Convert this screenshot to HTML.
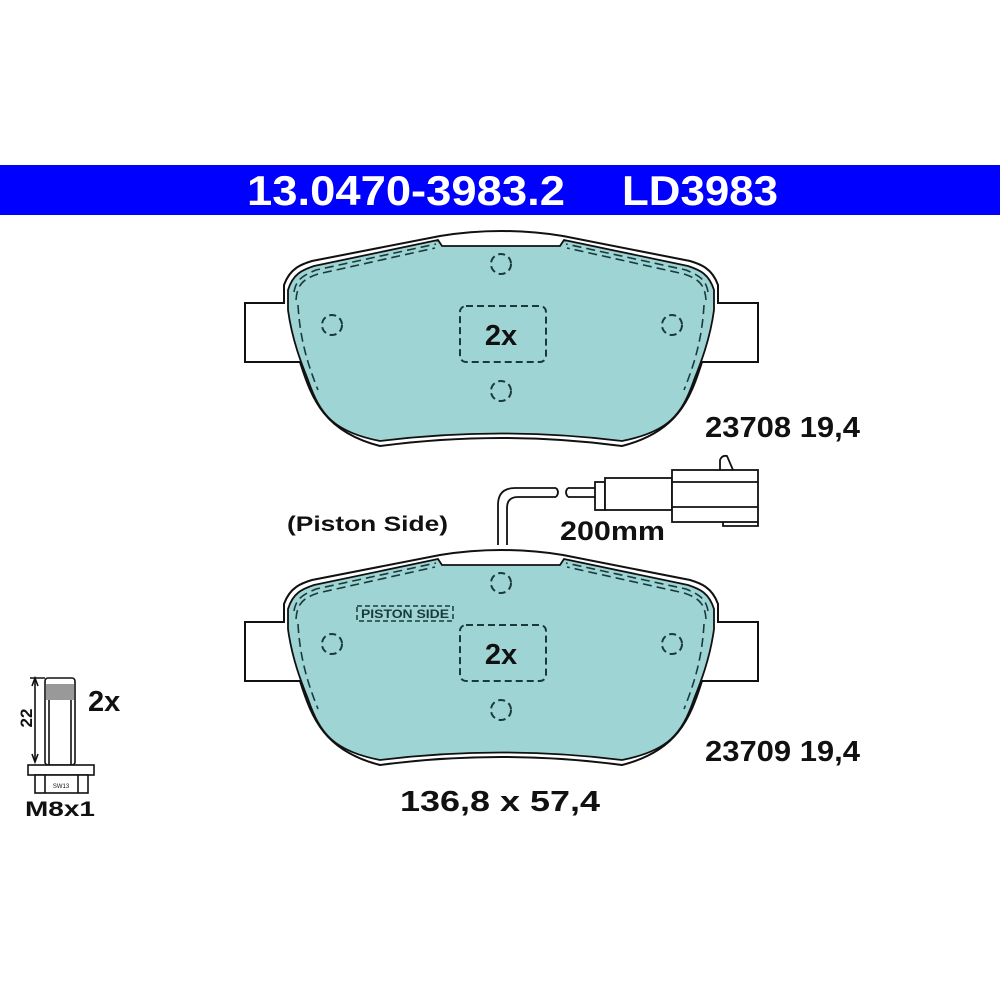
<!DOCTYPE html>
<html><head><meta charset="utf-8"><style>html,body{margin:0;padding:0;background:#fff}svg{display:block}</style></head>
<body>
<svg width="1000" height="1000" viewBox="0 0 1000 1000" xmlns="http://www.w3.org/2000/svg" font-family="Liberation Sans, Arial, sans-serif">
<rect x="0" y="165" width="1000" height="50" fill="#0000ff"/>
<text x="247" y="205" fill="#fff" font-size="42" font-weight="bold" textLength="318" lengthAdjust="spacingAndGlyphs">13.0470-3983.2</text>
<text x="622" y="205" fill="#fff" font-size="42" font-weight="bold" textLength="156" lengthAdjust="spacingAndGlyphs">LD3983</text>

<defs>
<g id="pad">
  <path d="M284,303 L245,303 L245,362 L300,362 C312,400 325,432 380,446 Q501,430 622,446 C677,432 690,400 702,362 L758,362 L758,303 L718,303 L718,285 C712,268 700,264 690,261 L563,236 Q501,226 440,236 L312,261 C302,264 290,268 284,285 Z" fill="#fff" stroke="#111" stroke-width="2"/>
  <path d="M288,290 C293,274 302,270 314,266 L438,240 L442,246 L560,246 L564,240 L688,266 C700,270 709,274 714,290 L714,310 C710,340 700,365 694,380 C682,415 668,432 622,441 Q501,426 380,441 C334,432 320,415 308,380 C302,365 292,340 288,310 Z" fill="#9fd4d4" stroke="#111" stroke-width="1.8"/>
  <g fill="none" stroke="#1a3a3a" stroke-width="1.6" stroke-dasharray="9,5">
    <path d="M296,300 C297,285 303,279 318,274 L435,248"/>
    <path d="M294,292 C296,280 302,276 316,270 L436,244"/>
    <path d="M706,300 C705,285 699,279 684,274 L567,248"/>
    <path d="M708,292 C706,280 700,276 686,270 L566,244"/>
    <path d="M298,305 C300,340 308,365 318,390"/>
    <path d="M704,305 C702,340 694,365 684,390"/>
  </g>
  <g fill="none" stroke="#1a3a3a" stroke-width="2" stroke-dasharray="7,4">
    <circle cx="501" cy="264" r="10"/>
    <circle cx="332" cy="325" r="10"/>
    <circle cx="672" cy="325" r="10"/>
    <circle cx="501" cy="391" r="10"/>
    <rect x="460" y="306" width="86" height="56" rx="6"/>
  </g>
  <text x="501" y="345" font-size="29" font-weight="bold" text-anchor="middle" fill="#111">2x</text>
</g>
</defs>

<use href="#pad"/>
<g transform="translate(0,319)"><use href="#pad"/></g>
<g transform="translate(0,319)">
  <rect x="357" y="287" width="96" height="15" fill="none" stroke="#1a3a3a" stroke-width="1.5" stroke-dasharray="5,3"/>
  <text x="405" y="299" font-size="12" font-weight="bold" text-anchor="middle" fill="#1a3a3a" textLength="88" lengthAdjust="spacingAndGlyphs">PISTON SIDE</text>
</g>

<!-- sensor wire -->
<g fill="none" stroke="#111" stroke-width="1.8">
  <path d="M498,545 L498,505 Q498,488 515,488 L556,488"/>
  <path d="M507,545 L507,508 Q507,497 518,497 L556,497"/>
  <path d="M556,488 Q560,492 556,497"/>
  <path d="M568,488 Q564,492 568,497"/>
  <path d="M568,488 L595,488 M568,497 L595,497"/>
  <rect x="595" y="482" width="10" height="28" fill="#fff"/>
  <rect x="605" y="478" width="67" height="32" fill="#fff"/>
  <rect x="672" y="470" width="86" height="52" fill="#fff"/>
  <path d="M672,482 L758,482 M672,507 L758,507"/>
  <path d="M720,470 L720,460 Q722,455 727,456 L733,470"/>
  <path d="M723,522 L723,526 L758,526 L758,522"/>
</g>

<text x="705" y="437" font-size="29" font-weight="bold" fill="#111" textLength="155" lengthAdjust="spacingAndGlyphs">23708 19,4</text>
<text x="705" y="761" font-size="29" font-weight="bold" fill="#111" textLength="155" lengthAdjust="spacingAndGlyphs">23709 19,4</text>
<text x="287" y="531" font-size="21" font-weight="bold" fill="#111" textLength="161" lengthAdjust="spacingAndGlyphs">(Piston Side)</text>
<text x="560" y="540" font-size="27" font-weight="bold" fill="#111" textLength="105" lengthAdjust="spacingAndGlyphs">200mm</text>
<text x="400" y="811" font-size="29" font-weight="bold" fill="#111" textLength="200" lengthAdjust="spacingAndGlyphs">136,8 x 57,4</text>

<!-- bolt -->
<g fill="none" stroke="#111" stroke-width="1.6">
  <path d="M35,678 L35,762 M30,678 L45,678"/>
  <path d="M32,686 L35,678 L38,686 M32,754 L35,762 L38,754"/>
  <rect x="45" y="678" width="30" height="87" rx="3" fill="#fff"/>
  <rect x="46" y="684" width="28" height="16" fill="#999" stroke="none"/>
  <path d="M49,700 L49,765 M71,700 L71,765"/>
  <rect x="28" y="765" width="66" height="10" fill="#fff"/>
  <rect x="35" y="775" width="53" height="18" fill="#fff"/>
  <path d="M45,775 L45,793 M78,775 L78,793"/>
</g>
<text x="61" y="788" font-size="6" text-anchor="middle" fill="#111">SW13</text>
<text x="32" y="718" font-size="17" font-weight="bold" fill="#111" text-anchor="middle" transform="rotate(-90 32 718)">22</text>
<text x="88" y="711" font-size="29" font-weight="bold" fill="#111">2x</text>
<text x="25" y="816" font-size="21" font-weight="bold" fill="#111" textLength="70" lengthAdjust="spacingAndGlyphs">M8x1</text>
</svg>
</body></html>
